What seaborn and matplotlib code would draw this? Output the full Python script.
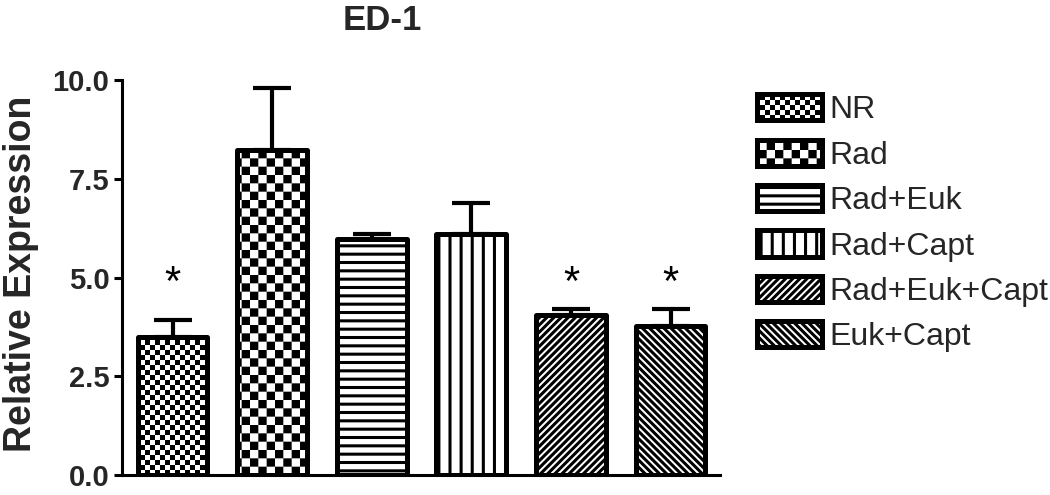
import warnings
warnings.filterwarnings("ignore")

import numpy as np
import matplotlib
matplotlib.use("Agg")
import matplotlib.pyplot as plt
from matplotlib import hatch as mhatch
from matplotlib.path import Path
from matplotlib.patches import Patch
import seaborn as sns

# ---------------- data ----------------
groups = ["NR", "Rad", "Rad+Euk", "Rad+Capt", "Rad+Euk+Capt", "Euk+Capt"]
means = [3.5, 8.22, 5.97, 6.1, 4.05, 3.78]
sem = [0.42, 1.57, 0.13, 0.8, 0.15, 0.42]
significant = [True, False, False, False, True, True]
yticks = [0.0, 2.5, 5.0, 7.5, 10.0]
title = "ED-1"
ylabel = "Relative Expression"

# hatch codes (custom patterns registered below)
patterns = ["c", "k", "--", "v", "n", "z"]

# ---------------- custom hatch patterns ----------------
HATCH_LW = 2.2


class CustomHatch(mhatch.HatchPatternBase):
    def __init__(self, hatch, density):
        self.segments = []
        inset = HATCH_LW / 144.0
        if "c" in hatch or "k" in hatch:
            n = 20 if "c" in hatch else 12
            s = 1.0 / n
            for i in range(n):
                for j in range(n):
                    if (i + j) % 2 == 0:
                        x0, y0 = i * s + inset, j * s + inset
                        x1, y1 = (i + 1) * s - inset, (j + 1) * s - inset
                        self.segments.append(("poly", [(x0, y0), (x1, y0), (x1, y1), (x0, y1), (x0, y0)]))
        if "v" in hatch:
            m = 9
            for k in range(m):
                x = (k + 0.5) / m
                self.segments.append(("line", [(x, 0.0), (x, 1.0)]))
        if "n" in hatch:
            m = 14
            for k in range(-m, m + 1):
                x = k / m
                self.segments.append(("line", [(x, 0.0), (x + 1.0, 1.0)]))
        if "z" in hatch:
            m = 14
            for k in range(-m, m + 1):
                x = k / m
                self.segments.append(("line", [(x, 1.0), (x + 1.0, 0.0)]))
        self.num_vertices = sum(len(seg[1]) for seg in self.segments)

    def set_vertices_and_codes(self, vertices, codes):
        idx = 0
        for kind, pts in self.segments:
            npts = len(pts)
            vertices[idx:idx + npts] = pts
            codes[idx] = Path.MOVETO
            if kind == "poly":
                codes[idx + 1:idx + npts - 1] = Path.LINETO
                codes[idx + npts - 1] = Path.CLOSEPOLY
            else:
                codes[idx + 1:idx + npts] = Path.LINETO
            idx += npts


mhatch._hatch_types.append(CustomHatch)

# ---------------- style ----------------
sns.set_style("ticks")
plt.rcParams["font.family"] = ["Liberation Sans", "DejaVu Sans"]
plt.rcParams["hatch.linewidth"] = HATCH_LW
plt.rcParams["hatch.color"] = "black"

fig, ax = plt.subplots(figsize=(10.5, 4.95), dpi=100)
fig.subplots_adjust(left=0.116, right=0.686, bottom=0.0404, top=0.838)

sns.barplot(x=groups, y=means, color="white", saturation=1, edgecolor="black",
            linewidth=3.6, width=0.7, errorbar=None, ax=ax)

bars = list(ax.patches)
for bar, h in zip(bars, patterns):
    bar.set_hatch(h)
    bar.set_edgecolor("black")
    bar.set_joinstyle("round")

centers = [b.get_x() + b.get_width() / 2 for b in bars]
ax.errorbar(centers, means, yerr=[np.zeros(len(sem)), sem], fmt="none",
            ecolor="black", elinewidth=3, capsize=13.5, capthick=3, zorder=0.5)

for cx, sig in zip(centers, significant):
    if sig:
        ax.text(cx, 4.85, "*", ha="center", va="center", fontsize=30,
                color="black")

ax.set_ylim(0, 10)
ax.set_xlim(-0.51, 5.5)
ax.set_yticks(yticks)
ax.set_yticklabels([f"{t:.1f}" for t in yticks], fontsize=21, fontweight="bold")
ax.set_xticks([])
ax.set_xlabel("")
ax.tick_params(axis="y", width=2.2, length=6, pad=3, color="black")
sns.despine(ax=ax)
for sp in ["left", "bottom"]:
    ax.spines[sp].set_linewidth(2.2)
    ax.spines[sp].set_color("black")

ax.set_ylabel(ylabel, fontsize=27, fontweight="bold")
ax.yaxis.set_label_coords(-0.138, 0.51)
ax.set_title(title, x=0.435, pad=36, fontsize=25, fontweight="bold")

handles = [Patch(facecolor="white", edgecolor="black", linewidth=3.6,
                 hatch=h, joinstyle="round") for h in patterns]
fig.legend(handles, groups, loc="upper left", bbox_to_anchor=(0.721, 0.81),
           frameon=False, fontsize=23, borderpad=0, borderaxespad=0,
           handlelength=2.04, handleheight=0.88, handletextpad=0.22,
           labelspacing=0.45)

fig.savefig("out.png", dpi=100, facecolor="white")
